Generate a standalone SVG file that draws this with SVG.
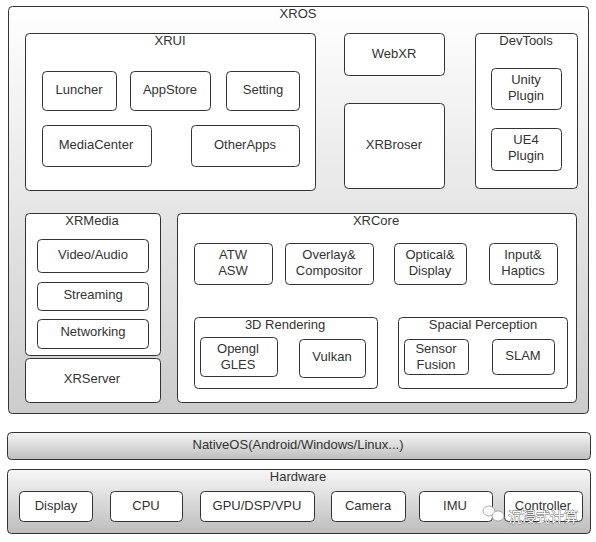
<svg xmlns="http://www.w3.org/2000/svg" width="596" height="542" viewBox="0 0 596 542">
<style>
text{font-family:"Liberation Sans",Arial,sans-serif;font-size:13px;fill:#333;text-anchor:middle;dominant-baseline:central}
.b{fill:#fff;stroke:#333;stroke-width:1}
.g{stroke:#333;stroke-width:1}
.wm{font-family:"Noto Sans CJK SC",sans-serif;font-size:14px;fill:#fff;stroke:#666;stroke-width:0.8;paint-order:stroke;text-anchor:start}
</style>
<defs>
<linearGradient id="g1" x1="0" y1="0" x2="0" y2="1"><stop offset="0" stop-color="#ffffff"/><stop offset="1" stop-color="#cccccc"/></linearGradient>
<linearGradient id="g2" x1="0" y1="0" x2="0" y2="1"><stop offset="0" stop-color="#f7f7f7"/><stop offset="1" stop-color="#bdbdbd"/></linearGradient>
</defs>
<g id="xros"><rect class="g" x="8.5" y="6.5" width="580" height="407" rx="4" fill="url(#g1)"/><text x="298" y="13">XROS</text></g>
<g id="xrui"><rect class="b" x="25.5" y="33.5" width="290" height="157" rx="4"/><text x="170" y="40">XRUI</text></g>
<g id="luncher"><rect class="b" x="42.5" y="71.5" width="74" height="39" rx="4"/><text x="79" y="89">Luncher</text></g>
<g id="appstore"><rect class="b" x="130.5" y="71.5" width="80" height="39" rx="4"/><text x="170" y="89">AppStore</text></g>
<g id="setting"><rect class="b" x="226.5" y="71.5" width="73" height="39" rx="4"/><text x="263" y="89">Setting</text></g>
<g id="mediacenter"><rect class="b" x="42.5" y="125.5" width="109" height="41" rx="4"/><text x="96" y="144">MediaCenter</text></g>
<g id="otherapps"><rect class="b" x="191.5" y="125.5" width="108" height="41" rx="4"/><text x="245" y="144">OtherApps</text></g>
<g id="webxr"><rect class="b" x="344.5" y="33.5" width="100" height="42" rx="4"/><text x="394" y="53">WebXR</text></g>
<g id="xrbroser"><rect class="b" x="344.5" y="103.5" width="100" height="85" rx="4"/><text x="394" y="144">XRBroser</text></g>
<g id="devtools"><rect class="b" x="475.5" y="33.5" width="102" height="155" rx="4"/><text x="526" y="40">DevTools</text></g>
<g id="unity"><rect class="b" x="491.5" y="68.5" width="70" height="41" rx="4"/><text x="526" y="79">Unity</text><text x="526" y="95">Plugin</text></g>
<g id="ue4"><rect class="b" x="491.5" y="128.5" width="70" height="42" rx="4"/><text x="526" y="139">UE4</text><text x="526" y="155">Plugin</text></g>
<g id="xrmedia"><rect class="b" x="25.5" y="213.5" width="135" height="142" rx="4"/><text x="92" y="220">XRMedia</text></g>
<g id="videoaudio"><rect class="b" x="37.5" y="239.5" width="111" height="33" rx="4"/><text x="93" y="254">Video/Audio</text></g>
<g id="streaming"><rect class="b" x="37.5" y="282.5" width="111" height="28" rx="4"/><text x="93" y="294">Streaming</text></g>
<g id="networking"><rect class="b" x="37.5" y="319.5" width="111" height="29" rx="4"/><text x="93" y="331">Networking</text></g>
<g id="xrserver"><rect class="b" x="25.5" y="358.5" width="135" height="44" rx="4"/><text x="92" y="378">XRServer</text></g>
<g id="xrcore"><rect class="b" x="177.5" y="213.5" width="399" height="189" rx="4"/><text x="376" y="220">XRCore</text></g>
<g id="atw"><rect class="b" x="194.5" y="243.5" width="78" height="41" rx="4"/><text x="233" y="254">ATW</text><text x="233" y="270">ASW</text></g>
<g id="overlay"><rect class="b" x="285.5" y="243.5" width="88" height="41" rx="4"/><text x="329" y="254">Overlay&amp;</text><text x="329" y="270">Compositor</text></g>
<g id="optical"><rect class="b" x="394.5" y="243.5" width="72" height="41" rx="4"/><text x="430" y="254">Optical&amp;</text><text x="430" y="270">Display</text></g>
<g id="input"><rect class="b" x="489.5" y="243.5" width="68" height="41" rx="4"/><text x="523" y="254">Input&amp;</text><text x="523" y="270">Haptics</text></g>
<g id="rendering"><rect class="b" x="194.5" y="317.5" width="183" height="71" rx="4"/><text x="285" y="324">3D Rendering</text></g>
<g id="opengl"><rect class="b" x="200.5" y="337.5" width="77" height="39" rx="4"/><text x="238" y="348">Opengl</text><text x="238" y="364">GLES</text></g>
<g id="vulkan"><rect class="b" x="299.5" y="339.5" width="66" height="38" rx="4"/><text x="332" y="356">Vulkan</text></g>
<g id="spacial"><rect class="b" x="398.5" y="317.5" width="169" height="71" rx="4"/><text x="483" y="324">Spacial Perception</text></g>
<g id="sensor"><rect class="b" x="404.5" y="339.5" width="64" height="35" rx="4"/><text x="436" y="348">Sensor</text><text x="436" y="364">Fusion</text></g>
<g id="slam"><rect class="b" x="492.5" y="339.5" width="62" height="35" rx="4"/><text x="523" y="355">SLAM</text></g>
<g id="nativeos"><rect class="g" x="7.5" y="432.5" width="583" height="27" rx="4" fill="url(#g2)"/><text x="298" y="444">NativeOS(Android/Windows/Linux...)</text></g>
<g id="hardware"><rect class="g" x="7.5" y="469.5" width="583" height="64" rx="4" fill="url(#g2)"/><text x="298" y="476">Hardware</text></g>
<g id="display"><rect class="b" x="19.5" y="491.5" width="73" height="30" rx="4"/><text x="56" y="505">Display</text></g>
<g id="cpu"><rect class="b" x="110.5" y="491.5" width="72" height="30" rx="4"/><text x="146" y="505">CPU</text></g>
<g id="gpu"><rect class="b" x="200.5" y="491.5" width="114" height="30" rx="4"/><text x="257" y="505">GPU/DSP/VPU</text></g>
<g id="camera"><rect class="b" x="331.5" y="491.5" width="74" height="30" rx="4"/><text x="368" y="505">Camera</text></g>
<g id="imu"><rect class="b" x="419.5" y="491.5" width="73" height="30" rx="4"/><text x="455" y="505">IMU</text></g>
<g id="controller"><rect class="b" x="504.5" y="491.5" width="78" height="30" rx="4"/><text x="543" y="505">Controller</text></g>
<g id="connectors"></g>
<g id="watermark"><ellipse cx="489" cy="511" rx="6" ry="5" fill="#fff" stroke="#999" stroke-width="0.8"/><ellipse cx="498" cy="516" rx="6" ry="5" fill="#fff" stroke="#999" stroke-width="0.8"/><text class="wm" x="508" y="516">沉浸式计算</text></g>
</svg>
